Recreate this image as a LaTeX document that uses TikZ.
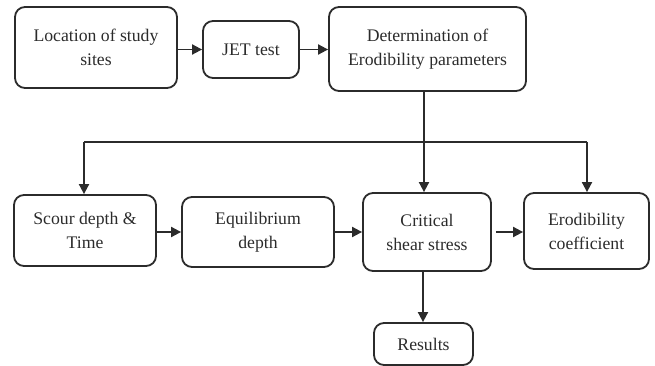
\documentclass[tikz,border=0pt]{standalone}
\usepackage{fontspec}
\setmainfont{Liberation Serif}
\usetikzlibrary{arrows.meta}
\definecolor{ink}{HTML}{2B2B2B}
\tikzset{
  box/.style={draw=ink, line width=1.8pt, rounded corners=10pt, align=center, inner sep=0pt,
    font=\fontsize{17.7}{24}\selectfont, text=ink},
  arr/.style={draw=ink, line width=1.8pt, -{Triangle[length=10pt,width=10pt]}},
  ln/.style={draw=ink, line width=1.8pt}
}
\begin{document}
\begin{tikzpicture}[x=1pt,y=-1pt]
\useasboundingbox (0,0) rectangle (655,366);
\node[box, minimum width=162pt, minimum height=81pt] (loc) at (96,47.5) {Location of study\\sites};
\node[box, minimum width=96pt, minimum height=57pt] (jet) at (251,49.5) {JET test};
\node[box, minimum width=197pt, minimum height=84pt] (det) at (427.5,49) {Determination of\\Erodibility parameters};
\node[box, minimum width=142pt, minimum height=71pt] (scour) at (85,230.5) {Scour depth \&\\Time};
\node[box, minimum width=152pt, minimum height=70pt] (equi) at (258,232) {Equilibrium\\depth};
\node[box, minimum width=128pt, minimum height=78pt] (crit) at (427,232) {Critical\\shear stress};
\node[box, minimum width=125pt, minimum height=76pt] (coef) at (586.5,231) {Erodibility\\coefficient};
\node[box, minimum width=99pt, minimum height=42pt] (res) at (423.5,344) {Results};
\coordinate (jm) at (424,142);
\coordinate (jl) at (84,142);
\coordinate (jr) at (587,142);
\draw[arr] (loc.east |- jet.west) -- (jet.west);
\draw[arr] (jet.east) -- (det.west |- jet.east);
\draw[ln] (det.south -| jm) -- (jm);
\draw[ln] (jl) -- (jr);
\draw[arr] (jm) -- (jm |- crit.north);
\draw[arr] (jl) -- (jl |- scour.north);
\draw[arr] (jr) -- (jr |- coef.north);
\draw[arr] (scour.east |- equi.west) -- (equi.west);
\draw[arr] (equi.east) -- (crit.west |- equi.east);
\draw[arr, shorten <=4pt] (crit.east) -- (coef.west |- crit.east);
\draw[arr] (crit.south -| 423,0) -- (res.north -| 423,0);
\end{tikzpicture}
\end{document}
